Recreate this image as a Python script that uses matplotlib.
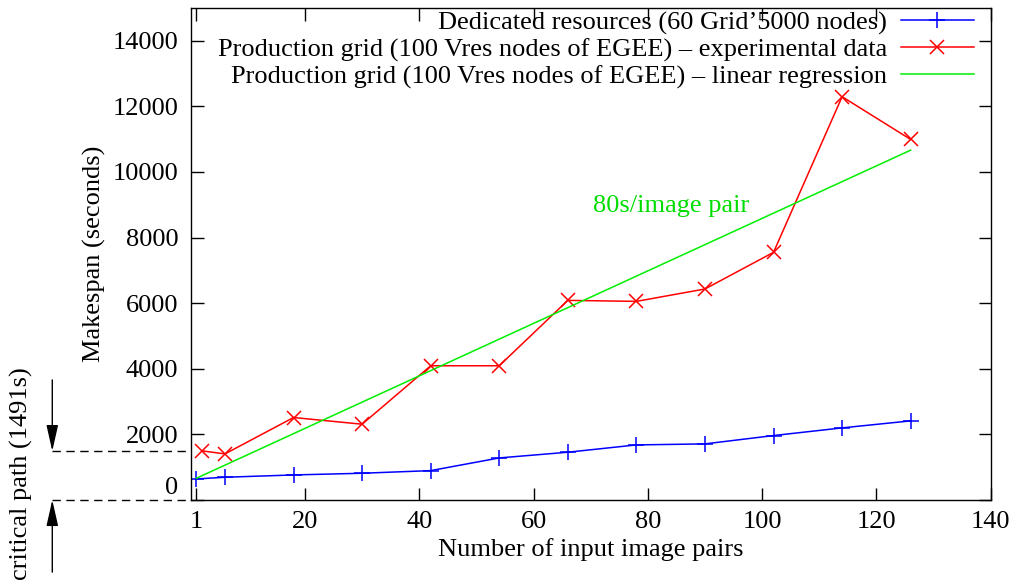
import matplotlib
matplotlib.use('Agg')
import matplotlib.pyplot as plt
import matplotlib.transforms as mtransforms

# values
x_pairs = [1, 6, 18, 30, 42, 54, 66, 78, 90, 102, 114, 126]
dedicated = [641, 693, 763, 815, 895, 1282, 1456, 1679, 1710, 1964, 2198, 2412]
egee_x = [2, 6, 18, 30, 42, 54, 66, 78, 90, 102, 114, 126]
egee = [1496, 1405, 2514, 2310, 4092, 4092, 6086, 6055, 6433, 7551, 12296, 10992]
regr_x = [1, 126]
regr = [662, 10666]
critical = 1491

xticks = [1, 20, 40, 60, 80, 100, 120, 140]
yticks = [0, 2000, 4000, 6000, 8000, 10000, 12000, 14000]

plt.rcParams['font.family'] = ['Liberation Serif', 'DejaVu Serif']
plt.rcParams['font.size'] = 19

fig = plt.figure(figsize=(10.17, 5.88), dpi=100)
ax = fig.add_axes([0.1875, 0.1497, 0.7866, 0.8367])

ax.plot(x_pairs, dedicated, color='#0000ff', marker='+', ms=12, mew=1.1, lw=1.1,
        label='Dedicated resources (60 Grid’5000 nodes)')
ax.plot(egee_x, egee, color='#ff0000', marker='x', ms=10, mew=1.1, lw=1.1,
        label='Production grid (100 Vres nodes of EGEE) – experimental data')
ax.plot(regr_x, regr, color='#00ee00', lw=1.1,
        label='Production grid (100 Vres nodes of EGEE) – linear regression')

ax.text(84, 8950, '80s/image pair', color='#00dd00', ha='center', va='center')

ax.set_xlim(0, 140)
ax.set_ylim(0, 15000)
ax.set_xticks(xticks)
ax.set_yticks(yticks)
ax.set_yticklabels([''] + [str(v) for v in yticks[1:]])
ax.tick_params(direction='in', length=9, width=1, top=True, right=True)
ax.tick_params(axis='x', pad=8)
ax.tick_params(axis='y', pad=9)
for s in ax.spines.values():
    s.set_linewidth(1)

# "0" label sits a little above its tick
ytrans = mtransforms.blended_transform_factory(ax.transAxes, ax.transData)
ax.text(-0.016, 370, '0', transform=ytrans, ha='right', va='center')

ax.set_xlabel('Number of input image pairs')
ax.set_ylabel('Makespan (seconds)')
ax.xaxis.set_label_coords(0.5, -0.078)
ax.yaxis.set_label_coords(-0.106, 0.5)

ax.legend(loc='upper right', bbox_to_anchor=(0.983, 1.0), frameon=False,
          markerfirst=False, handlelength=2.8, labelspacing=0.12,
          borderaxespad=0, borderpad=0.1, handletextpad=0.5)

# critical path annotation on the left
xa = -0.173
for yv in [critical, 0]:
    ax.plot([xa, 0], [yv, yv], transform=ytrans, color='k', lw=1,
            ls=(0, (6, 4)), clip_on=False)
arrow = dict(arrowstyle='-|>,head_length=1.6,head_width=0.36', color='k',
             lw=1, mutation_scale=10, shrinkA=0, shrinkB=0)
ax.annotate('', xy=(xa, critical), xytext=(xa, 3660), xycoords=ytrans,
            textcoords=ytrans, arrowprops=arrow, annotation_clip=False)
ax.annotate('', xy=(xa, 0), xytext=(xa, -2200), xycoords=ytrans,
            textcoords=ytrans, arrowprops=arrow, annotation_clip=False)
fig.text(21 / 1017, 1 - 474 / 588, 'critical path (1491s)', rotation=90,
         ha='center', va='center')

fig.savefig('out.png', dpi=100)
